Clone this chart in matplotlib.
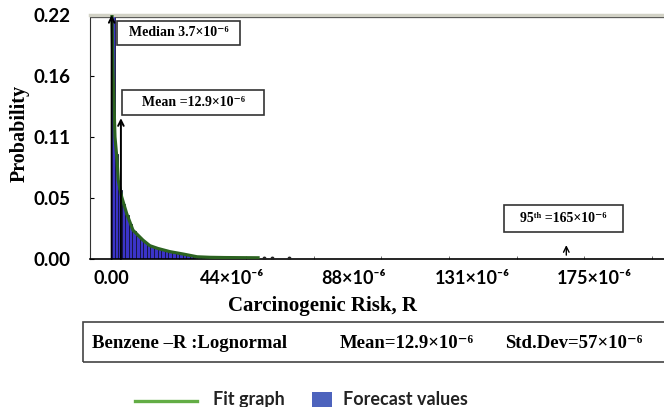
import matplotlib
matplotlib.use("Agg")
import matplotlib.pyplot as plt
from matplotlib.patches import Rectangle
from matplotlib.lines import Line2D

plt.rcParams['mathtext.default'] = 'regular'

# risk in units of 1e-6
bin_width = 1.3
bar_heights = [0.22, 0.095, 0.062, 0.050, 0.040, 0.032, 0.025, 0.021, 0.018, 0.015,
               0.013, 0.0115, 0.0102, 0.0093, 0.0083, 0.0074, 0.0066, 0.0060, 0.0053, 0.0048,
               0.0043, 0.0037, 0.0031, 0.0025, 0.0020, 0.0017, 0.0015, 0.0014, 0.0014, 0.0013,
               0.0013, 0.0012, 0.0012, 0.0011, 0.0011, 0.0011, 0.0010, 0.0010, 0.0009, 0.0009,
               0.0008]
bar_lefts = [i * bin_width for i in range(len(bar_heights))]

fit_x = [0.36, 0.72, 1.45, 2.17, 2.64, 3.88, 5.69, 7.97, 11.6, 14.1, 17.0, 21.4, 26.1,
         31.2, 35.9, 41.3, 46.7, 53.3]
fit_y = [0.22, 0.17, 0.11, 0.09, 0.071, 0.056, 0.041, 0.026, 0.017, 0.012, 0.0095, 0.0066,
         0.0045, 0.002, 0.0015, 0.0013, 0.0012, 0.0011]

outlier_x = [55.4, 58.3, 64.5]
outlier_y = [0.0008, 0.0008, 0.0008]

median_x, mean_x, p95_x = 0.25, 3.6, 165
mean_head = 0.127

xtick_vals = [0, 44, 88, 131, 175]
xtick_labels = ['0.00', '44×10⁻⁶', '88×10⁻⁶', '131×10⁻⁶', '175×10⁻⁶']
ytick_vals = [0, 0.055, 0.11, 0.165, 0.22]
ytick_labels = ['0.00', '0.05', '0.11', '0.16', '0.22']

W, H = 664, 407
def fx(p):
    return p / W
def fy(p):
    return 1 - p / H

serif = dict(family=['Liberation Serif', 'DejaVu Serif'], weight='bold', color='black')
sans = dict(family=['Lato', 'DejaVu Sans'], weight='bold', color='black')

fig = plt.figure(figsize=(W / 100, H / 100), dpi=100)
ax = fig.add_axes([fx(90), fy(259), (W - 90) / W, (259 - 15) / H])

ax.bar(bar_lefts, bar_heights, width=bin_width, align='edge', color='#3b34c8',
       edgecolor='#14143a', linewidth=0.6, zorder=2)
ax.plot(fit_x, fit_y, color='#2c6320', lw=2.3, zorder=3)
ax.plot(outlier_x, outlier_y, 'o', color='#222222', ms=1.8, zorder=3)

arrow = dict(arrowstyle='->', lw=1.4, color='black', shrinkA=0, shrinkB=0)
ax.annotate('', xy=(median_x, 0.22), xytext=(median_x, 0), arrowprops=arrow, zorder=4)
ax.annotate('', xy=(mean_x, mean_head), xytext=(mean_x, 0), arrowprops=arrow, zorder=4)
ax.annotate('', xy=(p95_x, 0.0125), xytext=(p95_x, 0.0035),
            arrowprops=dict(arrowstyle='->', lw=1.0, color='black', shrinkA=0, shrinkB=0))

ax.set_xlim(-7.6, 200.4)
ax.set_ylim(0, 0.22)
ax.set_xticks(xtick_vals)
ax.set_xticklabels(xtick_labels, fontsize=13, **sans)
ax.set_yticks(ytick_vals)
ax.set_yticklabels(ytick_labels, fontsize=13.5, **sans)
ax.tick_params(axis='x', direction='in', length=0, pad=8)
ax.tick_params(axis='y', direction='in', length=3, pad=14)
ax.set_xticks([24.5 * i for i in range(1, 9)], minor=True)
ax.tick_params(axis='x', which='minor', direction='in', length=2.5, color='#555555')

ax.spines['right'].set_visible(False)
ax.spines['top'].set_color('#d2d2c6')
ax.spines['top'].set_linewidth(2.5)
ax.axhline(0.2185, color='#3a3a3a', lw=0.9, zorder=1)
ax.spines['bottom'].set_linewidth(1.2)
ax.spines['left'].set_color('#333333')

fig.text(fx(322), fy(306), 'Carcinogenic Risk, R', ha='center', va='center', fontsize=15, **serif)
fig.text(fx(20), fy(133), 'Probability', ha='center', va='center', rotation=90, fontsize=14.5, **serif)

# annotation boxes
boxes = [((117, 21, 240, 45), 'Median 3.7×10⁻⁶'),
         ((122, 90, 264, 115), 'Mean =12.9×10⁻⁶'),
         ((504, 205, 623, 232), '95ᵗʰ =165×10⁻⁶')]
for (x0, y0, x1, y1), label in boxes:
    fig.patches.append(Rectangle((fx(x0), fy(y1)), (x1 - x0) / W, (y1 - y0) / H,
                                 transform=fig.transFigure, fill=True, facecolor='white',
                                 edgecolor='#333333', lw=1.2, zorder=5))
    fig.text(fx((x0 + x1) / 2), fy((y0 + y1) / 2), label, ha='center', va='center',
             fontsize=10, zorder=6, **serif)

# summary box
fig.patches.append(Rectangle((fx(83), fy(362)), (700 - 83) / W, 40 / H,
                             transform=fig.transFigure, fill=False, edgecolor='#444444', lw=1.2))
fig.text(fx(92), fy(343), 'Benzene –R :Lognormal', ha='left', va='center', fontsize=13.5, **serif)
fig.text(fx(340), fy(343), 'Mean=12.9×10⁻⁶', ha='left', va='center', fontsize=13.5, **serif)
fig.text(fx(505), fy(343), 'Std.Dev=57×10⁻⁶', ha='left', va='center', fontsize=13.5, **serif)

# legend
fig.add_artist(Line2D([fx(135), fx(197)], [fy(401), fy(401)], transform=fig.transFigure,
                      color='#63ad45', lw=2.4))
fig.text(fx(213), fy(405), 'Fit graph', ha='left', va='baseline', fontsize=13,
         family='Lato', weight='bold', color='#222222')
fig.patches.append(Rectangle((fx(312), fy(410)), 20 / W, 18 / H, transform=fig.transFigure,
                             facecolor='#4d63bd', edgecolor='none'))
fig.text(fx(343), fy(405), 'Forecast values', ha='left', va='baseline', fontsize=13,
         family='Lato', weight='bold', color='#222222')

fig.savefig('out.png', dpi=100)
